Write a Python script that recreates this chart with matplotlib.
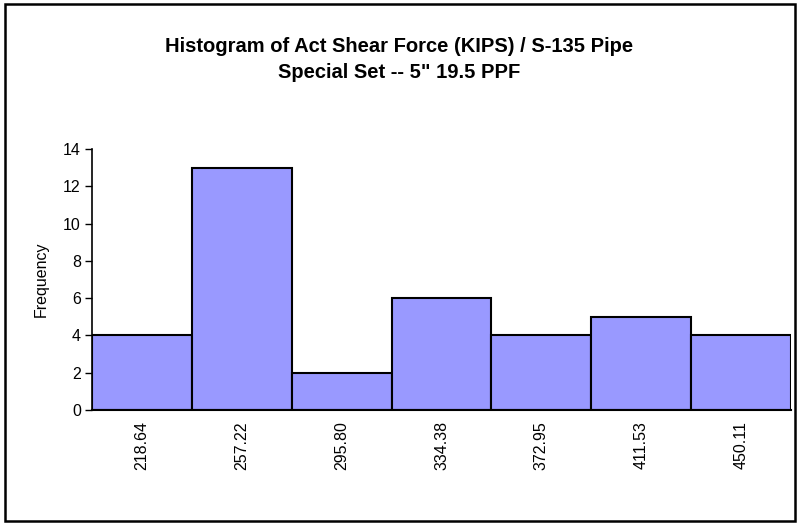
import matplotlib
matplotlib.use("Agg")
import matplotlib.pyplot as plt
from matplotlib.patches import Rectangle

plt.rcParams['font.family'] = ['Liberation Sans', 'DejaVu Sans']

bins = ["218.64", "257.22", "295.80", "334.38", "372.95", "411.53", "450.11"]
freq = [4, 13, 2, 6, 4, 5, 4]

fig = plt.figure(figsize=(7.99, 5.24), dpi=100)
ax = fig.add_axes([0.1151, 0.2176, 0.99 - 0.1151, 0.7156 - 0.2176])

x = list(range(len(bins)))
ax.bar(x, freq, width=1.0, color="#9999FF", edgecolor="black", linewidth=1.5)
ax.set_xlim(-0.5, len(bins) - 0.5)
ax.set_ylim(0, 14)
ax.set_yticks(range(0, 15, 2))
ax.set_xticks(x)
ax.set_xticklabels(bins, rotation=90, fontsize=11.5)
ax.tick_params(axis='x', length=0, pad=8)
ax.tick_params(axis='y', length=5, width=1, labelsize=11.5, pad=3)
ax.spines['top'].set_visible(False)
ax.spines['right'].set_visible(False)
ax.spines['left'].set_linewidth(1.2)
ax.spines['bottom'].set_linewidth(1.5)
ax.set_ylabel("Frequency", fontsize=11.5, labelpad=10)

fig.text(0.5, 1 - 47 / 524, "Histogram of Act Shear Force (KIPS) / S-135 Pipe",
         ha='center', va='center', fontsize=14.5, fontweight='bold')
fig.text(0.5, 1 - 73 / 524, "Special Set -- 5\" 19.5 PPF",
         ha='center', va='center', fontsize=14.5, fontweight='bold')

fig.patches.append(Rectangle((5 / 799, 3 / 524), 1 - 9 / 799, 1 - 7 / 524,
                             transform=fig.transFigure, fill=False,
                             edgecolor='black', linewidth=1.8))

fig.savefig("out.png", dpi=100)
